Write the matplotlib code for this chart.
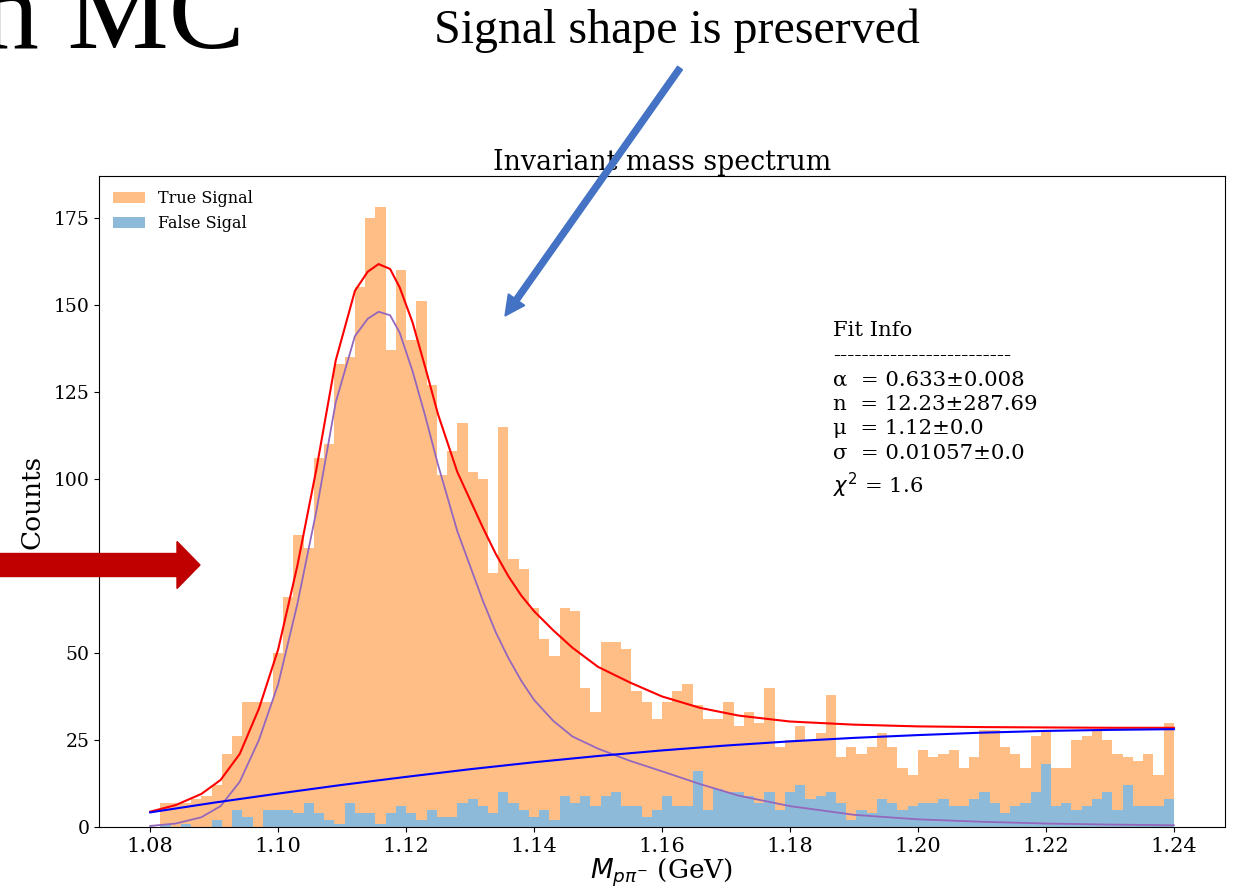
import numpy as np
import matplotlib
matplotlib.use("Agg")
import matplotlib.pyplot as plt
from matplotlib.patches import FancyArrow
from matplotlib.transforms import Affine2D

plt.rcParams['font.family'] = 'serif'
plt.rcParams['font.serif'] = ['DejaVu Serif']

# histogram binning
bin_lo, bin_hi, n_bins = 1.08, 1.24, 100

# counts per bin (False Sigal is the lower part of the stack)
false_counts = [0, 1, 0, 1, 0, 0, 2, 0, 5, 3,
                0, 5, 5, 5, 4, 7, 4, 2, 1, 7,
                4, 4, 1, 4, 6, 4, 2, 5, 3, 3,
                7, 8, 6, 4, 10, 7, 5, 3, 5, 2,
                9, 7, 9, 6, 9, 10, 6, 6, 3, 5,
                9, 6, 6, 16, 5, 11, 10, 10, 9, 7,
                10, 5, 10, 12, 8, 9, 10, 7, 2, 5,
                4, 8, 7, 5, 6, 7, 7, 8, 6, 6,
                8, 10, 7, 4, 6, 7, 10, 18, 6, 7,
                5, 6, 8, 10, 5, 12, 6, 6, 6, 8]
true_counts = [0, 6, 7, 6, 8, 9, 10, 21, 21, 33,
               36, 31, 45, 61, 80, 73, 102, 108, 132, 128,
               151, 171, 177, 133, 154, 136, 149, 122, 98, 105,
               109, 94, 94, 69, 105, 70, 69, 60, 49, 47,
               54, 55, 31, 27, 44, 43, 45, 33, 33, 26,
               27, 33, 35, 19, 26, 20, 26, 19, 24, 23,
               30, 18, 15, 17, 17, 18, 28, 13, 21, 16,
               19, 19, 16, 12, 9, 15, 13, 13, 16, 11,
               12, 18, 21, 19, 15, 10, 16, 10, 11, 10,
               20, 20, 20, 15, 16, 8, 13, 15, 9, 22]

# fit curves
fit_x = [1.080, 1.084, 1.088, 1.091, 1.094, 1.097, 1.100, 1.103, 1.106, 1.109,
         1.112, 1.114, 1.1157, 1.1175, 1.119, 1.121, 1.123, 1.125, 1.128, 1.130,
         1.132, 1.134, 1.136, 1.138, 1.140, 1.143, 1.146, 1.150, 1.155, 1.160,
         1.166, 1.172, 1.180, 1.190, 1.200, 1.210, 1.220, 1.230, 1.240]
total_fit = [4.4, 6.3, 9.5, 13.5, 21, 34, 51, 75, 103, 134,
             154, 159.5, 161.7, 160.3, 155, 145, 132, 118.5, 102, 94,
             86, 78.5, 72, 66.5, 62, 56.5, 51.5, 46, 41.5, 37.5,
             34.2, 32, 30.3, 29.4, 28.9, 28.7, 28.6, 28.5, 28.5]
signal_fit = [0.3, 1.0, 2.8, 6, 13, 25, 41, 64, 91, 122,
              141, 146, 148, 147, 142, 131, 118, 104, 85, 75,
              65, 56, 48.5, 42, 36.5, 30.5, 26, 22.5, 19, 16,
              12.3, 9, 6, 3.5, 2.2, 1.5, 1.0, 0.7, 0.5]
bkg_x = [1.08, 1.09, 1.10, 1.11, 1.12, 1.13, 1.14, 1.15, 1.16,
         1.17, 1.18, 1.19, 1.20, 1.21, 1.22, 1.23, 1.24]
bkg_fit = [4.2, 7.0, 9.6, 12.1, 14.4, 16.6, 18.6, 20.4, 22.0,
           23.4, 24.6, 25.6, 26.4, 27.1, 27.6, 27.9, 28.1]

fit_info = ("Fit Info\n"
            "-------------------------\n"
            "\u03b1  = 0.633\u00b10.008\n"
            "n  = 12.23\u00b1287.69\n"
            "\u03bc  = 1.12\u00b10.0\n"
            "\u03c3  = 0.01057\u00b10.0\n"
            "$\\chi^2$ = 1.6")

W, H = 1236, 890
fig = plt.figure(figsize=(W / 100, H / 100), dpi=100)
# pixel coordinates of the slide (origin top-left)
px = Affine2D().scale(1 / W, -1 / H).translate(0, 1) + fig.transFigure

ax = fig.add_axes([99 / W, 1 - 827 / H, (1225 - 99) / W, (827 - 176) / H])

edges = np.linspace(bin_lo, bin_hi, n_bins + 1)
centers = 0.5 * (edges[:-1] + edges[1:])
_, _, p_false = ax.hist(centers, bins=edges, weights=false_counts,
                        color='C0', alpha=0.5, label='False Sigal')
_, _, p_true = ax.hist(centers, bins=edges, weights=true_counts,
                       bottom=false_counts, color='C1', alpha=0.5,
                       label='True Signal')

ax.plot(fit_x, total_fit, color='red', lw=1.5)
ax.plot(fit_x, signal_fit, color='tab:purple', lw=1.3)
ax.plot(bkg_x, bkg_fit, color='blue', lw=1.5)

ax.set_xlim(1.072, 1.248)
ax.set_ylim(0, 187)
ax.set_xticks(np.arange(1.08, 1.2401, 0.02))
ax.set_xticklabels([f"{v:.2f}" for v in np.arange(1.08, 1.2401, 0.02)])
ax.set_yticks(np.arange(0, 176, 25))
ax.tick_params(axis='x', labelsize=15)
ax.tick_params(axis='y', labelsize=13.5)

ax.set_title("Invariant mass spectrum", fontsize=19.3, pad=4)
ax.set_xlabel(r"$M_{p\pi^{-}}$ (GeV)", fontsize=19)
ax.set_ylabel("Counts", fontsize=19)
ax.xaxis.set_label_coords(0.5, -0.045)
ax.yaxis.set_label_coords(-0.048, 0.5)

ax.legend([p_true[0], p_false[0]], ['True Signal', 'False Sigal'],
          loc='upper left', frameon=False, fontsize=11.5)

ax.text(0.652, 0.777, fit_info, transform=ax.transAxes, va='top', ha='left',
        fontsize=15.3, linespacing=1.37)

# slide decorations
fig.text(245, 48, "n MC", transform=px, ha='right', va='baseline',
         fontsize=82, family='Liberation Serif')
fig.text(677, 43, "Signal shape is preserved", transform=px, ha='center',
         va='baseline', fontsize=34.5, family='Liberation Serif')
fig.add_artist(FancyArrow(680, 68, -175, 248, width=6, head_width=20,
                          head_length=20, length_includes_head=True,
                          color='#4472C4', transform=px, zorder=10))
fig.add_artist(FancyArrow(-5, 565, 205, 0, width=23, head_width=47,
                          head_length=23, length_includes_head=True,
                          color='#C00000', transform=px, zorder=10))

fig.savefig("out.png", dpi=100)
